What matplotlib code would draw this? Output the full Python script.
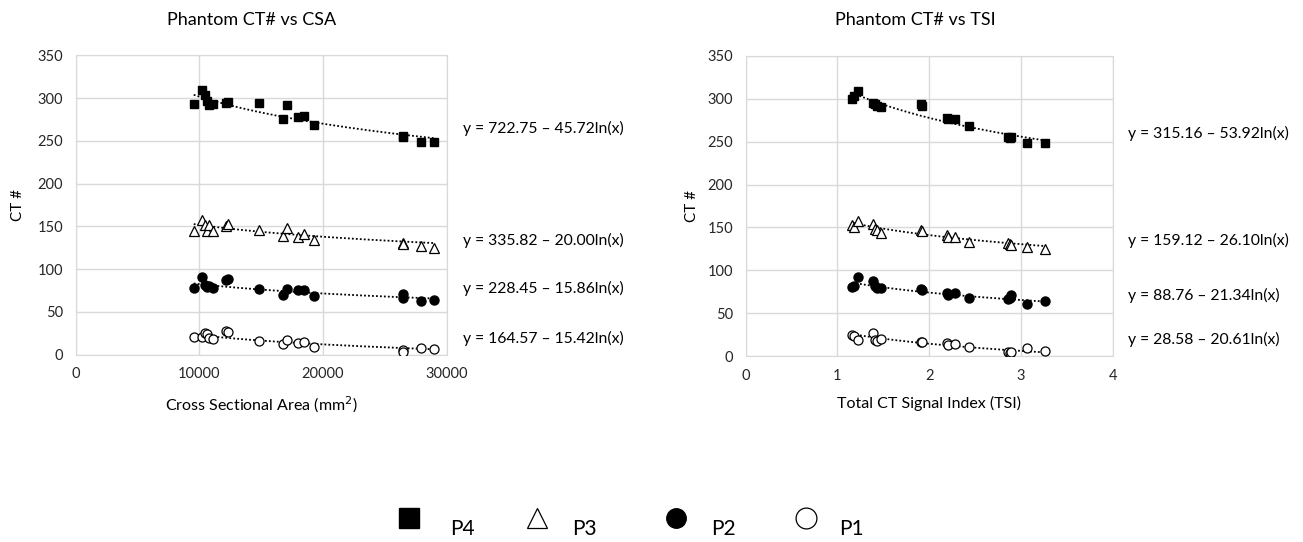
import numpy as np
import matplotlib
matplotlib.use("Agg")
import matplotlib.pyplot as plt

plt.rcParams["font.family"] = ["Lato", "DejaVu Sans"]

# Cross sectional area (mm^2) for the 18 scans
csa = [9550, 10200, 10450, 10650, 10750, 11100, 12150, 12300, 14800,
       16800, 17050, 17950, 18500, 19300, 26450, 26500, 27950, 29000]
p4_csa = [293, 309, 303, 297, 292, 293, 294, 295, 294,
          275, 292, 278, 279, 269, 256, 254, 248, 249]
p3_csa = [145, 157, 152, 145, 151, 145, 150, 153, 146,
          139, 148, 138, 141, 134, 131, 129, 127, 125]
p2_csa = [78, 91, 81, 79, 80, 78, 87, 88, 77,
          70, 77, 75, 75, 68, 71, 66, 62, 64]
p1_csa = [20, 20, 25, 24, 19, 18, 28, 26, 16,
          12, 17, 13, 15, 9, 5, 3, 8, 6]

# Total CT signal index
tsi = [1.16, 1.18, 1.22, 1.39, 1.41, 1.43, 1.47, 1.91, 1.92,
       2.19, 2.21, 2.28, 2.43, 2.86, 2.88, 2.89, 3.07, 3.26]
p4_tsi = [300, 303, 309, 295, 294, 292, 291, 294, 292,
          278, 276, 277, 268, 255, 254, 256, 248, 249]
p3_tsi = [153, 151, 157, 154, 148, 147, 144, 147, 146,
          141, 139, 139, 133, 132, 131, 130, 127, 125]
p2_tsi = [81, 82, 92, 87, 82, 79, 79, 78, 77,
          73, 71, 74, 68, 67, 68, 71, 61, 64]
p1_tsi = [24, 23, 19, 27, 19, 18, 20, 16, 16,
          15, 13, 14, 10, 5, 4, 5, 9, 6]

# trend line coefficients y = a - b ln(x), as printed on the chart
fit_csa = [(722.75, 45.72), (335.82, 20.00), (228.45, 15.86), (164.57, 15.42)]
fit_tsi = [(315.16, 53.92), (159.12, 26.10), (88.76, 21.34), (28.58, 20.61)]

labels = ["P4", "P3", "P2", "P1"]
styles = [
    dict(marker="s", mfc="black", mec="black", ms=6),
    dict(marker="^", mfc="white", mec="black", ms=7, mew=0.9),
    dict(marker="o", mfc="black", mec="black", ms=6.5),
    dict(marker="o", mfc="white", mec="black", ms=6.5, mew=0.9),
]

W, H = 1303, 542
fig = plt.figure(figsize=(W / 100, H / 100), dpi=100)


def px(x0, y0, x1, y1):
    return [x0 / W, 1 - y1 / H, (x1 - x0) / W, (y1 - y0) / H]


def panel(rect, x, series, fits, xmax, xticks, title, title_x, xlabel, ylabel_x, eq_x, eq_y):
    ax = fig.add_axes(rect)
    for ys, st, (a, b) in zip(series, styles, fits):
        ax.plot(x, ys, ls="none", zorder=3, **st)
        xx = np.linspace(min(x), max(x), 200)
        ax.plot(xx, a - b * np.log(xx), ls=(0, (1, 1.2)), color="black", lw=1.3, zorder=2)
    ax.set_xlim(0, xmax)
    ax.set_ylim(0, 350)
    ax.set_xticks(xticks)
    ax.set_yticks(range(0, 351, 50))
    ax.grid(True, color="#d9d9d9", lw=1)
    ax.set_axisbelow(True)
    for s in ax.spines.values():
        s.set_color("#d9d9d9")
    ax.tick_params(length=0, labelsize=10.5, colors="#262626", pad=9)
    fig.text(title_x / W, 1 - 20 / H, title, ha="center", va="center", fontsize=13)
    ax.set_xlabel(xlabel, fontsize=11.5, labelpad=10)
    fig.text(ylabel_x / W, rect[1] + rect[3] / 2, "CT #", rotation=90,
             ha="center", va="center", fontsize=11)
    for (a, b), yy in zip(fits, eq_y):
        fig.text(eq_x / W, 1 - yy / H, f"y = {a:.2f} \u2013 {b:.2f}ln(x)",
                 ha="left", va="center", fontsize=11.3)
    return ax


panel(px(75.6, 55.3, 446.7, 354.5), csa, [p4_csa, p3_csa, p2_csa, p1_csa], fit_csa,
      30000, [0, 10000, 20000, 30000], "Phantom CT# vs CSA", 252,
      "Cross Sectional Area (mm$^2$)", 18, 463, [128, 240, 288, 338])
panel(px(745.7, 56, 1112.7, 356), tsi, [p4_tsi, p3_tsi, p2_tsi, p1_tsi], fit_tsi,
      4, [0, 1, 2, 3, 4], "Phantom CT# vs TSI", 915,
      "Total CT Signal Index (TSI)", 692, 1128, [133, 240, 295, 339])

# legend along the bottom
lg = fig.add_axes([0, 0, 1, 1])
lg.set_xlim(0, W)
lg.set_ylim(H, 0)
lg.axis("off")
mark_x = [409, 537, 676, 806]
text_x = [462, 584, 723, 851]
big = [dict(ms=14), dict(ms=15, mew=0.9), dict(ms=14), dict(ms=15, mew=0.9)]
for lab, st, b, mx, tx in zip(labels, styles, big, mark_x, text_x):
    s = dict(st)
    s.update(b)
    lg.plot([mx], [518], ls="none", **s)
    lg.text(tx, 529, lab, ha="center", va="center", fontsize=15)

fig.savefig("out.png", dpi=100)
